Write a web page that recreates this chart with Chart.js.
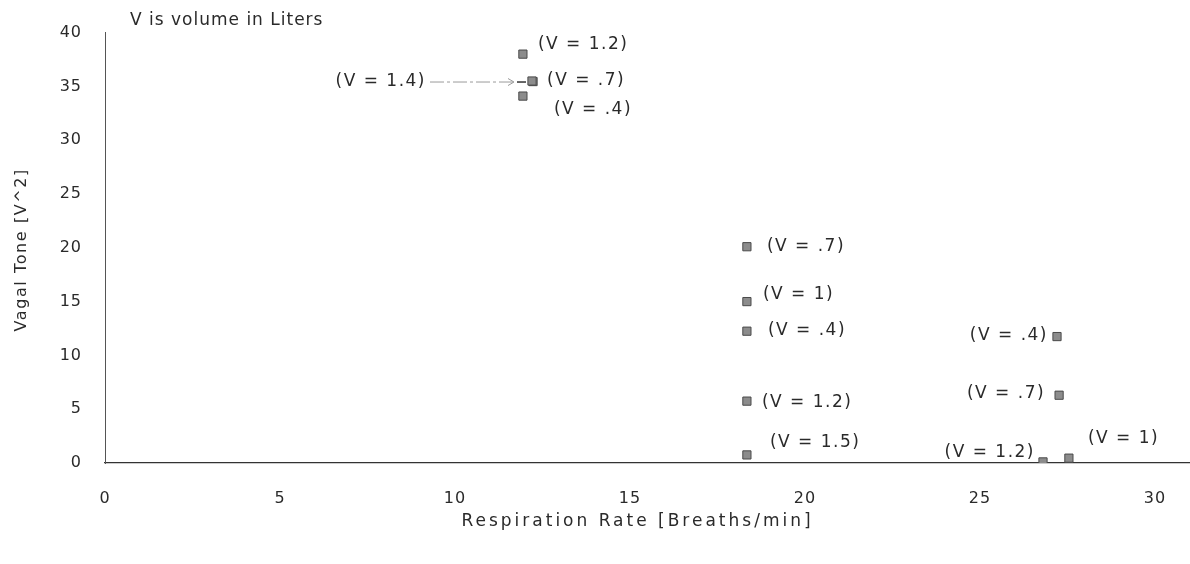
<!DOCTYPE html>
<html>
<head>
<meta charset="utf-8">
<script src="https://cdn.jsdelivr.net/npm/chart.js@4/dist/chart.umd.min.js"></script>
<style>
  html, body { margin: 0; padding: 0; background: #ffffff; }
  #wrap { width: 1190px; height: 564px; }
</style>
</head>
<body>
<div id="wrap"><canvas id="c" width="1190" height="564"></canvas></div>
<script>
// ---- data ----
const respirationRate = [11.94, 12.23, 11.94, 12.20, 18.34, 18.34, 18.34, 18.34, 18.34, 27.20, 27.26, 26.80, 27.54];
const vagalTone       = [38.0, 35.45, 34.1, 35.5, 20.1, 15.0, 12.25, 5.75, 0.75, 11.75, 6.3, 0.1, 0.45];
const volumeLabels    = ["(V = 1.2)", "(V = .7)", "(V = .4)", "(V = 1.4)", "(V = .7)", "(V = 1)", "(V = .4)", "(V = 1.2)", "(V = 1.5)", "(V = .4)", "(V = .7)", "(V = 1.2)", "(V = 1)"];
const xTickValues = [0, 5, 10, 15, 20, 25, 30];
const yTickValues = [0, 5, 10, 15, 20, 25, 30, 35, 40];
const noteText = "V is volume in Liters";
const xTitle = "Respiration Rate [Breaths/min]";
const yTitle = "Vagal Tone [V^2]";

// ---- label placement (styling, pixel offsets from each point) ----
const labelPlacement = [
  {dx: 15, dy: -10, align: 'left'},
  {dx: 14, dy: -1, align: 'left'},
  {dx: 31, dy: 13, align: 'left'},
  {dx: -106, dy: 1, align: 'right', arrow: true},
  {dx: 20, dy: 0, align: 'left'},
  {dx: 16, dy: -7, align: 'left'},
  {dx: 21, dy: -1, align: 'left'},
  {dx: 15, dy: 1, align: 'left'},
  {dx: 23, dy: -12, align: 'left'},
  {dx: -9, dy: -1, align: 'right'},
  {dx: -14, dy: -2, align: 'right'},
  {dx: -8, dy: -9, align: 'right'},
  {dx: 19, dy: -20, align: 'left'}
];

const FONT = "'DejaVu Sans', sans-serif";
const TEXT = '#2a2a2a';

const points = respirationRate.map((x, i) => ({x: x, y: vagalTone[i]}));

const labelPlugin = {
  id: 'pointLabels',
  beforeDraw(chart) {
    chart.ctx.letterSpacing = '1px';
  },
  afterDraw(chart) {
    const ctx = chart.ctx;
    const area = chart.chartArea;
    const meta = chart.getDatasetMeta(0);
    ctx.save();
    ctx.letterSpacing = '1.5px';
    ctx.font = "17px " + FONT;
    ctx.fillStyle = TEXT;
    ctx.textBaseline = 'middle';
    meta.data.forEach((el, i) => {
      const p = labelPlacement[i];
      const tx = el.x + p.dx, ty = el.y + p.dy;
      ctx.textAlign = p.align;
      ctx.fillText(volumeLabels[i], tx, ty);
      if (p.arrow) {
        const x0 = tx + 4, x1 = el.x - 18;
        ctx.save();
        ctx.letterSpacing = '0px';
        ctx.strokeStyle = '#9a9a9a';
        ctx.lineWidth = 1;
        ctx.setLineDash([14, 3, 3, 3]);
        ctx.beginPath();
        ctx.moveTo(x0, ty);
        ctx.lineTo(x1, ty);
        ctx.stroke();
        ctx.setLineDash([]);
        ctx.beginPath();
        ctx.moveTo(x1 - 6, ty - 3.5);
        ctx.lineTo(x1, ty);
        ctx.lineTo(x1 - 6, ty + 3.5);
        ctx.stroke();
        ctx.strokeStyle = '#333';
        ctx.lineWidth = 1.5;
        ctx.beginPath();
        ctx.moveTo(x1 + 3, ty);
        ctx.lineTo(el.x - 6, ty);
        ctx.stroke();
        ctx.restore();
      }
    });
    // note text at the top left of the plot
    ctx.textAlign = 'left';
    ctx.letterSpacing = '1px';
    ctx.font = "17px " + FONT;
    ctx.fillText(noteText, area.left + 25, 21);

    // axis titles
    ctx.font = "17px " + FONT;
    ctx.textAlign = 'center';
    ctx.letterSpacing = '3px';
    ctx.fillText(xTitle, (area.left + area.right) / 2 - 10, 522);
    ctx.save();
    ctx.translate(22, (area.top + area.bottom) / 2 + 2);
    ctx.rotate(-Math.PI / 2);
    ctx.font = "16px " + FONT;
    ctx.letterSpacing = '1.6px';
    ctx.fillText(yTitle, 0, 0);
    ctx.restore();
    ctx.restore();
  }
};

new Chart(document.getElementById('c'), {
  type: 'scatter',
  data: {
    datasets: [{
      data: points,
      pointStyle: 'rect',
      pointRadius: 5.8,
      pointHoverRadius: 5.8,
      backgroundColor: '#8c8c8c',
      borderColor: '#4a4a4a',
      borderWidth: 1
    }]
  },
  options: {
    responsive: false,
    animation: false,
    events: [],
    layout: { autoPadding: false, padding: { top: 23, right: 0, left: 0, bottom: 0 } },
    plugins: { legend: { display: false }, tooltip: { enabled: false } },
    scales: {
      x: {
        type: 'linear',
        min: 0, max: 31,
        afterFit(scale) { scale.height = 101; scale.paddingRight = 0; scale.paddingLeft = 0; },
        afterBuildTicks(scale) { scale.ticks = xTickValues.map(v => ({value: v})); },
        grid: { display: false, drawTicks: false },
        border: { display: true, color: '#333', width: 1.2 },
        ticks: { padding: 26, color: TEXT, font: { family: FONT, size: 16 } },
        title: { display: false, text: xTitle }
      },
      y: {
        type: 'linear',
        min: 0, max: 40,
        afterFit(scale) { scale.width = 105; },
        afterBuildTicks(scale) { scale.ticks = yTickValues.map(v => ({value: v})); },
        grid: { display: false, drawTicks: false },
        border: { display: true, color: '#555', width: 1, dash: [3, 3] },
        ticks: { padding: 23, color: TEXT, font: { family: FONT, size: 16 } },
        title: { display: false, text: yTitle }
      }
    }
  },
  plugins: [labelPlugin]
});
</script>
</body>
</html>
